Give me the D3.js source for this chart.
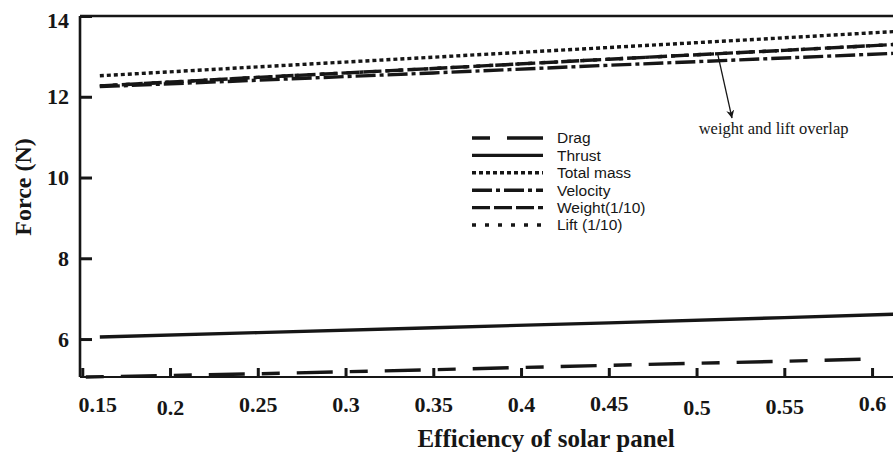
<!DOCTYPE html>
<html>
<head>
<meta charset="utf-8">
<script src="https://cdn.jsdelivr.net/npm/d3@7"></script>
<style>
  html, body { margin: 0; padding: 0; background: #fff; }
  svg { display: block; }
</style>
</head>
<body>
<svg id="chart" width="893" height="454"></svg>
<script>
// ---- data ----
const efficiency = [0.16, 0.25, 0.35, 0.45, 0.55, 0.615];
const dragEfficiency = [0.152, 0.25, 0.35, 0.45, 0.55, 0.603];
const drag      = [5.06, 5.14, 5.24, 5.35, 5.45, 5.51];
const thrust    = [6.05, 6.16, 6.28, 6.40, 6.53, 6.62];
const totalMass = [12.52, 12.74, 12.98, 13.22, 13.46, 13.62];
const velocity  = [12.25, 12.41, 12.59, 12.78, 12.96, 13.08];
const weight    = [12.27, 12.48, 12.70, 12.93, 13.15, 13.30];
const lift      = [12.27, 12.48, 12.70, 12.93, 13.15, 13.30];
const xTicks = [0.15, 0.2, 0.25, 0.3, 0.35, 0.4, 0.45, 0.5, 0.55, 0.6];
const yTicks = [6, 8, 10, 12, 14];
const legendLabels = ["Drag", "Thrust", "Total mass", "Velocity", "Weight(1/10)", "Lift (1/10)"];
const annotationText = "weight and lift overlap";

// ---- styles ----
const dashes = {
  "Drag": "18,17,36,17",
  "Thrust": null,
  "Total mass": "4,3",
  "Velocity": "20,4,4,4",
  "Weight(1/10)": "18,4",
  "Lift (1/10)": "4,9"
};
// small per-label offsets (as typeset in the original figure)
const xLabelShift = { 0.15: [15, 0], 0.2: [0, 3], 0.45: [0, -1], 0.5: [0, 3], 0.55: [0, 2], 0.6: [0, -1] };

const svg = d3.select("#chart");
const pLeft = 80, pRight = 894, pTop = 16, pBottom = 377;

const x = d3.scaleLinear().domain([0.1487, 0.6125]).range([pLeft, pRight]);
const y = d3.scaleLinear().domain([5.06, 14]).range([pBottom, pTop]);

const defs = svg.append("defs");
defs.append("clipPath").attr("id", "plotclip")
  .append("rect").attr("x", pLeft).attr("y", pTop).attr("width", pRight - pLeft).attr("height", pBottom - pTop + 3);

const series = [
  { name: "Lift (1/10)", xs: efficiency, ys: lift },
  { name: "Drag", xs: dragEfficiency, ys: drag },
  { name: "Thrust", xs: efficiency, ys: thrust },
  { name: "Total mass", xs: efficiency, ys: totalMass },
  { name: "Velocity", xs: efficiency, ys: velocity },
  { name: "Weight(1/10)", xs: efficiency, ys: weight }
];

const line = d3.line().x(d => x(d[0])).y(d => y(d[1]));
const g = svg.append("g").attr("clip-path", "url(#plotclip)");
series.forEach(s => {
  const pts = s.xs.map((v, i) => [v, s.ys[i]]);
  g.append("path").datum(pts)
    .attr("d", line)
    .attr("fill", "none")
    .attr("stroke", "#161616")
    .attr("stroke-width", 3.4)
    .attr("stroke-dasharray", dashes[s.name]);
});

// ---- axes ----
const serif = "'Liberation Serif','Times New Roman',serif";
const xAxis = svg.append("g").attr("transform", `translate(0,${pBottom})`)
  .call(d3.axisBottom(x).tickValues(xTicks).tickSize(-9).tickPadding(0).tickFormat(d3.format("")));
xAxis.select(".domain").remove();
xAxis.selectAll(".tick line").attr("stroke", "#161616").attr("stroke-width", 3);
xAxis.selectAll(".tick text")
  .attr("y", d => 35 + ((xLabelShift[d] || [0, 0])[1])).attr("dy", 0)
  .attr("dx", d => (xLabelShift[d] || [0, 0])[0])
  .style("font-family", serif).style("font-weight", "bold").style("font-size", "22px").attr("fill", "#161616");

const yAxis = svg.append("g").attr("transform", `translate(${pLeft},0)`)
  .call(d3.axisLeft(y).tickValues(yTicks).tickSize(-12).tickPadding(11));
yAxis.select(".domain").remove();
yAxis.selectAll(".tick line").attr("stroke", "#161616").attr("stroke-width", 3);
yAxis.selectAll(".tick text")
  .attr("dy", d => d === 14 ? "0.5em" : "0.32em")
  .style("font-family", serif).style("font-weight", "bold").style("font-size", "22px").attr("fill", "#161616");

// frame lines: left, bottom, top
svg.append("line").attr("x1", pLeft).attr("x2", pLeft).attr("y1", pTop).attr("y2", pBottom)
  .attr("stroke", "#161616").attr("stroke-width", 2.6);
svg.append("line").attr("x1", pLeft).attr("x2", 893).attr("y1", pBottom).attr("y2", pBottom)
  .attr("stroke", "#161616").attr("stroke-width", 2.2);
svg.append("line").attr("x1", pLeft).attr("x2", 893).attr("y1", pTop).attr("y2", pTop)
  .attr("stroke", "#161616").attr("stroke-width", 2.3);

// axis titles
svg.append("text").attr("x", 546).attr("y", 447).attr("text-anchor", "middle")
  .style("font-family", serif).style("font-weight", "bold").style("font-size", "25px").attr("fill", "#161616")
  .text("Efficiency of solar panel");
svg.append("text").attr("transform", "translate(31,187) rotate(-90)").attr("text-anchor", "middle")
  .style("font-family", serif).style("font-weight", "bold").style("font-size", "24px").attr("fill", "#161616")
  .text("Force (N)");

// ---- legend ----
const lg = svg.append("g");
legendLabels.forEach((name, i) => {
  const yy = 138 + i * 17.4;
  lg.append("line").attr("x1", 472).attr("x2", 543).attr("y1", yy).attr("y2", yy)
    .attr("stroke", "#161616").attr("stroke-width", 3.4)
    .attr("stroke-dasharray", dashes[name]);
  lg.append("text").attr("x", 557).attr("y", yy).attr("dy", "0.35em")
    .style("font-family", "'Liberation Sans',Arial,sans-serif").style("font-size", "15.5px").attr("fill", "#161616")
    .text(name);
});

// ---- annotation ----
const arrowFrom = [0.512, 13.07], arrowTo = [0.5202, 11.47], textAt = [0.5012, 11.08];
defs.append("marker").attr("id", "arrowhead")
  .attr("viewBox", "0 0 10 10").attr("refX", 10).attr("refY", 5)
  .attr("markerWidth", 8).attr("markerHeight", 8).attr("markerUnits", "userSpaceOnUse")
  .attr("orient", "auto")
  .append("path").attr("d", "M0,0 L10,5 L0,10 L3,5 Z").attr("fill", "#161616");
svg.append("line")
  .attr("x1", x(arrowFrom[0])).attr("y1", y(arrowFrom[1]))
  .attr("x2", x(arrowTo[0])).attr("y2", y(arrowTo[1]))
  .attr("stroke", "#161616").attr("stroke-width", 1.3)
  .attr("marker-end", "url(#arrowhead)");
svg.append("text").attr("x", x(textAt[0])).attr("y", y(textAt[1]))
  .style("font-family", serif).style("font-size", "16.5px").attr("fill", "#161616")
  .text(annotationText);
</script>
</body>
</html>
